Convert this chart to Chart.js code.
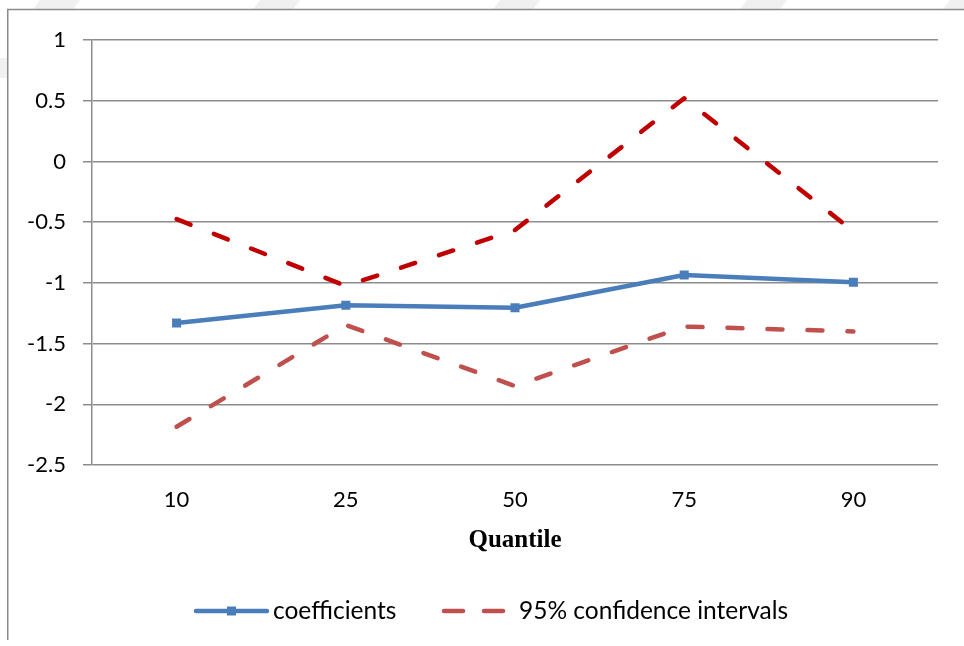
<!DOCTYPE html>
<html>
<head>
<meta charset="utf-8">
<script src="https://cdn.jsdelivr.net/npm/chart.js@4/dist/chart.umd.min.js"></script>
<style>
  html, body { margin: 0; padding: 0; background: #fff; }
  #wrap { width: 964px; height: 646px; position: relative; }
</style>
</head>
<body>
<div id="wrap"><canvas id="c" width="964" height="646"></canvas></div>
<script>
// Quantile regression coefficients with 95% confidence bounds
const quantiles = ['10', '25', '50', '75', '90'];
const coefficients = [-1.33, -1.185, -1.205, -0.935, -0.995];
const upperBound = [-0.475, -1.025, -0.565, 0.52, -0.575];
const lowerBound = [-2.185, -1.347, -1.85, -1.36, -1.40];
const yTicks = [1, 0.5, 0, -0.5, -1, -1.5, -2, -2.5];

const BLUE = '#4a7ebb';
const DARK_RED = '#c00000';
const RED = '#c0504d';
const GRID = '#8c8c8c';
const LABEL_FONT = 'Lato, "Open Sans", sans-serif';

// Page frame and faint background stripes around the chart
const framePlugin = {
  id: 'frame',
  beforeDraw(chart) {
    const ctx = chart.ctx;
    ctx.save();
    ctx.fillStyle = '#ffffff';
    ctx.fillRect(0, 0, chart.width, chart.height);
    // stripes only show outside the framed area
    ctx.beginPath();
    ctx.rect(0, 0, chart.width, 9);
    ctx.rect(0, 0, 7, chart.height);
    ctx.clip();
    ctx.fillStyle = '#f0f0f0';
    const stripes = [50, 270, 510, 757, 960];
    stripes.forEach(cx => {
      ctx.beginPath();
      ctx.moveTo(cx - 10, 0);
      ctx.lineTo(cx + 30, 0);
      ctx.lineTo(cx, 40);
      ctx.lineTo(cx - 40, 40);
      ctx.closePath();
      ctx.fill();
    });
    ctx.beginPath();
    ctx.moveTo(0, 58); ctx.lineTo(7, 58); ctx.lineTo(7, 78); ctx.lineTo(0, 78);
    ctx.closePath();
    ctx.fill();
    ctx.restore();

    ctx.save();
    ctx.strokeStyle = '#8a8a8a';
    ctx.lineWidth = 1.5;
    ctx.beginPath();
    ctx.moveTo(chart.width, 9.5);
    ctx.lineTo(7.75, 9.5);
    ctx.lineTo(7.75, 640);
    ctx.stroke();
    ctx.restore();
  }
};

// Legend drawn under the axis title: one entry for the coefficients,
// one shared entry for both confidence bounds
const legendPlugin = {
  id: 'bottomLegend',
  afterDraw(chart) {
    const ctx = chart.ctx;
    const y = 611;
    const x0 = 196;
    ctx.save();
    ctx.lineCap = 'round';
    ctx.lineWidth = 4.5;
    // coefficients sample: solid line with square marker
    ctx.strokeStyle = BLUE;
    ctx.beginPath();
    ctx.moveTo(x0, y);
    ctx.lineTo(x0 + 71, y);
    ctx.stroke();
    ctx.fillStyle = BLUE;
    ctx.fillRect(x0 + 31, y - 4.5, 9, 9);
    ctx.fillStyle = '#000';
    ctx.font = '24.5px ' + LABEL_FONT;
    ctx.textBaseline = 'middle';
    ctx.textAlign = 'left';
    ctx.fillText('coefficients', x0 + 77, y);
    // confidence interval sample: two dashes
    const x1 = 444;
    ctx.strokeStyle = RED;
    ctx.beginPath();
    ctx.moveTo(x1, y); ctx.lineTo(x1 + 19, y);
    ctx.moveTo(x1 + 40, y); ctx.lineTo(x1 + 59, y);
    ctx.stroke();
    ctx.fillText('95% confidence intervals', x1 + 75, y);
    ctx.restore();
  }
};

const lineBase = {
  borderWidth: 4.5,
  tension: 0,
  fill: false,
  borderCapStyle: 'round',
  borderJoinStyle: 'round'
};

new Chart(document.getElementById('c'), {
  type: 'line',
  data: {
    labels: quantiles,
    datasets: [
      Object.assign({}, lineBase, {
        label: '95% confidence intervals (upper)',
        data: upperBound,
        borderColor: DARK_RED,
        borderDash: [15, 25],
        pointRadius: 0
      }),
      Object.assign({}, lineBase, {
        label: '95% confidence intervals',
        data: lowerBound,
        borderColor: RED,
        borderDash: [15, 25],
        pointRadius: 0
      }),
      Object.assign({}, lineBase, {
        label: 'coefficients',
        data: coefficients,
        borderColor: BLUE,
        backgroundColor: BLUE,
        pointStyle: 'rect',
        pointRadius: 6.4,
        pointBorderWidth: 0,
        pointBackgroundColor: BLUE
      })
    ]
  },
  options: {
    responsive: false,
    animation: false,
    events: [],
    layout: { padding: { top: 40, right: 26, left: 0, bottom: 0 } },
    plugins: {
      legend: { display: false },
      tooltip: { enabled: false }
    },
    scales: {
      x: {
        offset: true,
        grid: { display: false, drawTicks: false },
        border: { display: false },
        ticks: {
          color: '#000',
          padding: 22,
          font: { family: LABEL_FONT, size: 22 }
        },
        title: {
          display: true,
          text: 'Quantile',
          color: '#000',
          font: { family: '"Liberation Serif", "Times New Roman", serif', size: 25, weight: 'bold' },
          padding: { top: 12, bottom: 90 }
        },
        afterFit(scale) { scale.height = 181; }
      },
      y: {
        min: -2.5,
        max: 1,
        afterBuildTicks(scale) {
          scale.ticks = yTicks.map(v => ({ value: v }));
        },
        grid: {
          color: GRID,
          lineWidth: 1.5,
          drawTicks: true,
          tickLength: 9,
          tickColor: GRID
        },
        border: { display: true, color: GRID, width: 1.5 },
        ticks: {
          color: '#000',
          padding: 17,
          font: { family: LABEL_FONT, size: 22 },
          callback: v => String(v)
        },
        afterFit(scale) { scale.width = 92; }
      }
    }
  },
  plugins: [framePlugin, legendPlugin]
});
</script>
</body>
</html>
